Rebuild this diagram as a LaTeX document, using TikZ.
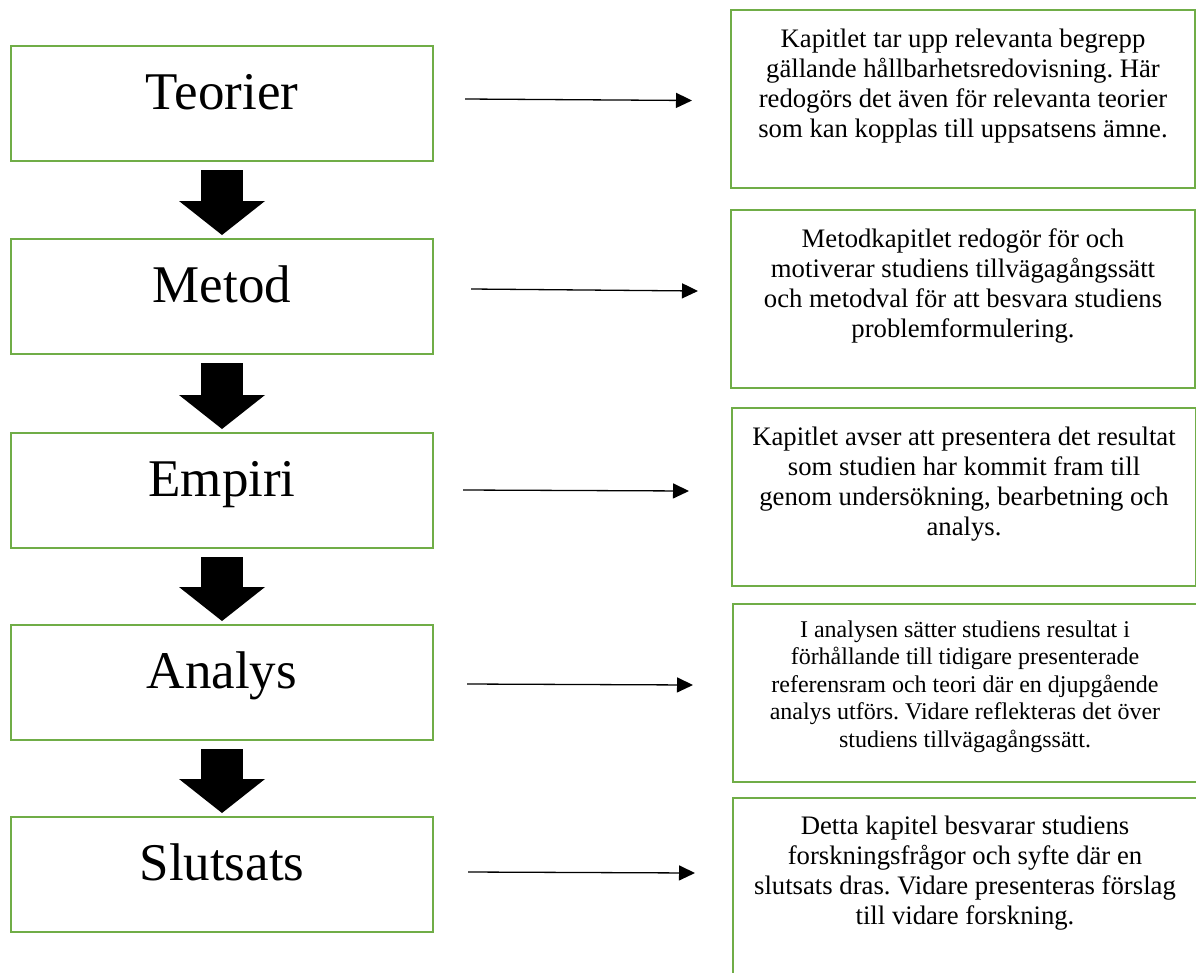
\documentclass[tikz,border=0pt]{standalone}
\usepackage{fontspec}
\setmainfont{Liberation Serif}
\usetikzlibrary{arrows.meta, positioning}
\definecolor{kantgron}{RGB}{112,173,71}
\frenchspacing

\tikzset{
  rubrik/.style={draw=kantgron, line width=2.4pt, outer sep=0pt, inner sep=0pt, minimum width=422pt, text height=63pt, text depth=52pt, font=\fontsize{53}{60}\selectfont},
  ruta/.style={draw=kantgron, line width=2.4pt, outer sep=0pt, inner sep=0pt, minimum width=464pt, minimum height=178pt},
  brodtext/.style={align=center, inner sep=0pt, font=\fontsize{26.7}{30}\selectfont},
  pil/.style={line width=1.3pt, -{Triangle[length=16pt,width=15pt]}},
  storpil/.style={line width=42pt, -{Triangle[length=34pt,width=86pt,line width=0pt]}, shorten <=9pt, shorten >=4pt}
}

\begin{document}
\begin{tikzpicture}[x=1pt,y=-1pt]
\useasboundingbox (0,0) rectangle (1196,972);

\node [rubrik, anchor=north west] (teorier) at (11,46) {Teorier};
\node [rubrik, anchor=north west] (metod) at (11,239) {Metod};
\node [rubrik, anchor=north west] (empiri) at (11,433) {Empiri};
\node [rubrik, anchor=north west] (analys) at (11,625) {Analys};
\node [rubrik, anchor=north west] (slutsats) at (11,817) {Slutsats};

\draw [storpil] (teorier) -- (metod);
\draw [storpil] (metod) -- (empiri);
\draw [storpil] (empiri) -- (analys);
\draw [storpil] (analys) -- (slutsats);

\node [ruta, anchor=north west] (teorierRuta) at (731,10) {};
\node [ruta, anchor=north west] (metodRuta) at (731,210) {};
\node [ruta, anchor=north west] (empiriRuta) at (732,408) {};
\node [ruta, anchor=north west] (analysRuta) at (733,604) {};
\node [ruta, anchor=north west] (slutsatsRuta) at (733,798) {};

\node [brodtext, anchor=north, below=19pt of teorierRuta.north] (teorierText) {Kapitlet tar upp relevanta begrepp\\gällande hållbarhetsredovisning. Här\\redogörs det även för relevanta teorier\\som kan kopplas till uppsatsens ämne.};
\node [brodtext, anchor=north, below=18pt of metodRuta.north] (metodText) {Metodkapitlet redogör för och\\motiverar studiens tillvägagångssätt\\och metodval för att besvara studiens\\problemformulering.};
\node [brodtext, anchor=north, below=19pt of empiriRuta.north] (empiriText) {Kapitlet avser att presentera det resultat\\som studien har kommit fram till\\genom undersökning, bearbetning och\\analys.};
\node [brodtext, anchor=north, below=16.6pt of analysRuta.north, font=\fontsize{24}{27.5}\selectfont] (analysText) {I analysen sätter studiens resultat i\\förhållande till tidigare presenterade\\referensram och teori där en djupgående\\analys utförs. Vidare reflekteras det över\\studiens tillvägagångssätt.};
\node [brodtext, anchor=north, below=18pt of slutsatsRuta.north] (slutsatsText) {Detta kapitel besvarar studiens\\forskningsfrågor och syfte där en\\slutsats dras. Vidare presenteras förslag\\till vidare forskning.};

\coordinate (teorierFran) at (465,99);
\coordinate (teorierTill) at (692,100.5);
\coordinate (metodFran) at (471,289);
\coordinate (metodTill) at (698,291);
\coordinate (empiriFran) at (463,490);
\coordinate (empiriTill) at (689,491);
\coordinate (analysFran) at (467,684);
\coordinate (analysTill) at (693,685);
\coordinate (slutsatsFran) at (468,872);
\coordinate (slutsatsTill) at (695,873);

\draw [pil] (teorierFran) -- (teorierTill);
\draw [pil] (metodFran) -- (metodTill);
\draw [pil] (empiriFran) -- (empiriTill);
\draw [pil] (analysFran) -- (analysTill);
\draw [pil] (slutsatsFran) -- (slutsatsTill);
\end{tikzpicture}
\end{document}
